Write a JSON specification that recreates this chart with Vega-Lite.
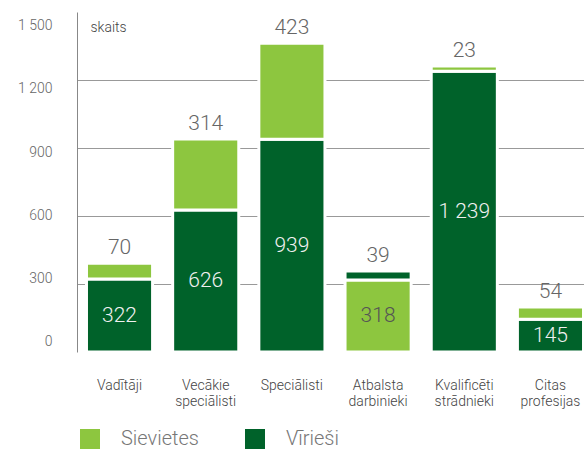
{
  "$schema": "https://vega.github.io/schema/vega-lite/v6.json",
  "width": 516,
  "height": 340,
  "autosize": {"type": "none"},
  "padding": {"left": 77, "top": 12, "right": 0, "bottom": 97},
  "config": {
    "locale": {"number": {"decimal": ",", "thousands": " ", "grouping": [3], "currency": ["", ""]}},
    "view": {"stroke": null},
    "font": "Roboto Light, Roboto"
  },
  "data": {
    "values": [
      {"profesija": "Vadītāji", "dzimums": "Vīrieši", "skaits": 322, "slanis": 1},
      {"profesija": "Vadītāji", "dzimums": "Sievietes", "skaits": 70, "slanis": 2},
      {"profesija": "Vecākie speciālisti", "dzimums": "Vīrieši", "skaits": 626, "slanis": 1},
      {"profesija": "Vecākie speciālisti", "dzimums": "Sievietes", "skaits": 314, "slanis": 2},
      {"profesija": "Speciālisti", "dzimums": "Vīrieši", "skaits": 939, "slanis": 1},
      {"profesija": "Speciālisti", "dzimums": "Sievietes", "skaits": 423, "slanis": 2},
      {"profesija": "Atbalsta darbinieki", "dzimums": "Sievietes", "skaits": 318, "slanis": 1},
      {"profesija": "Atbalsta darbinieki", "dzimums": "Vīrieši", "skaits": 39, "slanis": 2},
      {"profesija": "Kvalificēti strādnieki", "dzimums": "Vīrieši", "skaits": 1239, "slanis": 1},
      {"profesija": "Kvalificēti strādnieki", "dzimums": "Sievietes", "skaits": 23, "slanis": 2},
      {"profesija": "Citas profesijas", "dzimums": "Vīrieši", "skaits": 145, "slanis": 1},
      {"profesija": "Citas profesijas", "dzimums": "Sievietes", "skaits": 54, "slanis": 2}
    ]
  },
  "transform": [
    {"stack": "skaits", "groupby": ["profesija"], "sort": [{"field": "slanis", "order": "ascending"}], "as": ["v0", "v1"]},
    {"calculate": "(datum.v0 + datum.v1) / 2", "as": "vidus"}
  ],
  "encoding": {
    "x": {
      "field": "profesija",
      "type": "nominal",
      "sort": null,
      "scale": {"paddingInner": 0.233, "paddingOuter": 0.11},
      "axis": {
        "title": null,
        "labelAngle": 0,
        "labelExpr": "split(datum.label, ' ')",
        "labelBaseline": "top",
        "labelPadding": 26,
        "labelFontSize": 14,
        "labelLineHeight": 16,
        "labelColor": "#444",
        "labelFontWeight": 300,
        "domain": false,
        "ticks": false
      }
    }
  },
  "layer": [
    {
      "mark": {"type": "bar", "stroke": "white", "strokeWidth": 3},
      "encoding": {
        "y": {
          "field": "v0",
          "type": "quantitative",
          "scale": {"domain": [0, 1500], "nice": false, "zero": true},
          "axis": {
            "title": "skaits",
            "titleAngle": 0,
            "titleX": 13,
            "titleY": 19,
            "titleAlign": "left",
            "titleBaseline": "alphabetic",
            "titleFontSize": 14,
            "titleFontWeight": 300,
            "titleColor": "#444",
            "values": [0, 300, 600, 900, 1200, 1500],
            "format": ",.0f",
            "ticks": false,
            "labelPadding": 25,
            "labelFontSize": 14,
            "labelFontWeight": 300,
            "labelColor": "#666",
            "labelOffset": {
              "condition": [
                {"test": "datum.value == 1500", "value": 13},
                {"test": "datum.value == 1200", "value": 8},
                {"test": "datum.value == 900", "value": 4},
                {"test": "datum.value == 600", "value": -1},
                {"test": "datum.value == 300", "value": -6}
              ],
              "value": -11
            },
            "domainColor": "#888",
            "gridColor": "#999",
            "gridOpacity": {"condition": {"test": "datum.value == 0 || datum.value == 1500", "value": 0}, "value": 1}
          }
        },
        "y2": {"field": "v1"},
        "color": {
          "field": "dzimums",
          "type": "nominal",
          "scale": {"domain": ["Sievietes", "Vīrieši"], "range": ["#8DC63F", "#00622A"]},
          "legend": {
            "title": null,
            "orient": "none",
            "direction": "horizontal",
            "legendX": 3,
            "legendY": 417,
            "symbolType": "square",
            "symbolSize": 400,
            "symbolStrokeWidth": 0,
            "labelFontSize": 20,
            "labelFontWeight": 300,
            "labelColor": "#777",
            "labelOffset": 21,
            "columnPadding": 46,
            "padding": 0
          }
        }
      }
    },
    {
      "transform": [{"filter": "datum.slanis == 2"}],
      "mark": {"type": "text", "baseline": "bottom", "dy": -5, "fontSize": 21, "fontWeight": 300, "color": "#666"},
      "encoding": {
        "y": {"field": "v1", "type": "quantitative"},
        "text": {"field": "skaits", "type": "quantitative", "format": ",.0f"}
      }
    },
    {
      "transform": [{"filter": "datum.slanis == 1"}],
      "mark": {"type": "text", "baseline": "middle", "fontSize": 21, "fontWeight": 300},
      "encoding": {
        "y": {"field": "vidus", "type": "quantitative"},
        "text": {"field": "skaits", "type": "quantitative", "format": ",.0f"},
        "color": {"condition": {"test": "datum.dzimums == 'Vīrieši'", "value": "#f0f0f0"}, "value": "#555"}
      }
    }
  ]
}
